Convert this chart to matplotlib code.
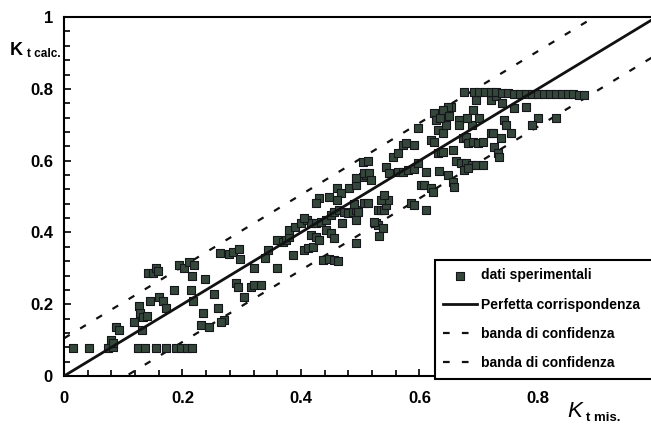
import numpy as np
import matplotlib.pyplot as plt
from matplotlib.ticker import MultipleLocator

plt.rcParams['font.family'] = ['Liberation Sans', 'DejaVu Sans']
plt.rcParams['font.weight'] = 'bold'

# ------------------------------------------------------------
# experimental points (Kt measured, Kt calculated), read off the scan
# ------------------------------------------------------------
kt_mis = [
    # low row
    0.015, 0.042, 0.074, 0.083, 0.125, 0.137, 0.156, 0.172, 0.189, 0.198, 0.207, 0.216,
    # low part
    0.080, 0.082, 0.088, 0.093, 0.127, 0.128, 0.133, 0.140, 0.118, 0.132, 0.145, 0.142,
    0.150, 0.156, 0.159, 0.160, 0.167, 0.172, 0.186, 0.194, 0.203, 0.211, 0.220, 0.216,
    0.215, 0.218, 0.238, 0.253, 0.235, 0.231, 0.245, 0.260, 0.270, 0.265, 0.263, 0.279,
    # middle
    0.290, 0.294, 0.304, 0.316, 0.321, 0.333, 0.285, 0.296, 0.297, 0.320, 0.340, 0.345,
    0.360, 0.360, 0.370, 0.375, 0.380, 0.387, 0.380, 0.390, 0.400, 0.410, 0.417, 0.426,
    0.434, 0.443, 0.405, 0.412, 0.420, 0.417, 0.426, 0.430, 0.443, 0.451, 0.456, 0.437,
    0.448, 0.456, 0.463, 0.470, 0.450, 0.456, 0.465, 0.473, 0.480, 0.488, 0.493, 0.493,
    0.460, 0.468, 0.460, 0.481, 0.493, 0.505, 0.510, 0.430, 0.426, 0.507, 0.405, 0.447,
    # upper middle
    0.493, 0.507, 0.515, 0.519, 0.505, 0.513, 0.544, 0.549, 0.556, 0.564, 0.573, 0.578,
    0.591, 0.598, 0.564, 0.573, 0.581, 0.590, 0.598, 0.611, 0.603, 0.608, 0.620, 0.623,
    0.633, 0.620, 0.625, 0.632, 0.637, 0.649, 0.657, 0.659, 0.662, 0.670, 0.679, 0.688,
    0.696, 0.708, 0.676, 0.682, 0.666, 0.667, 0.674, 0.679, 0.688, 0.682, 0.691, 0.699,
    0.708, 0.720, 0.726, 0.733, 0.735,
    0.530, 0.535, 0.540, 0.544, 0.547, 0.535, 0.540, 0.513, 0.527, 0.530, 0.539, 0.532,
    0.586, 0.591, 0.611, 0.490, 0.497, 0.493, 0.524,
    # top cluster
    0.625, 0.628, 0.632, 0.640, 0.645, 0.654, 0.649, 0.657, 0.640, 0.635, 0.640, 0.650,
    0.676, 0.680, 0.690, 0.695, 0.700, 0.720, 0.730, 0.740, 0.760, 0.780, 0.743, 0.746,
    0.800, 0.790, 0.830, 0.725, 0.738, 0.755,
    # saturated band
    0.692, 0.700, 0.710, 0.720, 0.730, 0.740, 0.750, 0.760, 0.770, 0.780, 0.790, 0.800,
    0.810, 0.820, 0.830, 0.840, 0.850, 0.860, 0.870, 0.878,
]
kt_calc = [
    0.078, 0.078, 0.078, 0.080, 0.078, 0.078, 0.078, 0.078, 0.078, 0.078, 0.078, 0.078,
    0.100, 0.092, 0.137, 0.128, 0.195, 0.175, 0.164, 0.167, 0.150, 0.128, 0.209, 0.287,
    0.287, 0.300, 0.292, 0.220, 0.210, 0.190, 0.240, 0.310, 0.300, 0.318, 0.310, 0.280,
    0.240, 0.210, 0.270, 0.228, 0.175, 0.142, 0.137, 0.190, 0.156, 0.150, 0.343, 0.340,
    0.260, 0.248, 0.220, 0.248, 0.253, 0.253, 0.345, 0.354, 0.326, 0.300, 0.330, 0.350,
    0.300, 0.380, 0.373, 0.380, 0.387, 0.337, 0.407, 0.415, 0.426, 0.435, 0.426, 0.426,
    0.430, 0.435, 0.350, 0.357, 0.360, 0.393, 0.387, 0.380, 0.407, 0.398, 0.384, 0.323,
    0.326, 0.323, 0.320, 0.426, 0.448, 0.457, 0.462, 0.457, 0.454, 0.457, 0.462, 0.370,
    0.524, 0.510, 0.490, 0.524, 0.532, 0.554, 0.560, 0.496, 0.482, 0.482, 0.440, 0.498,
    0.552, 0.565, 0.565, 0.546, 0.596, 0.600, 0.582, 0.565, 0.610, 0.620, 0.643, 0.649,
    0.643, 0.690, 0.568, 0.568, 0.574, 0.577, 0.593, 0.568, 0.532, 0.532, 0.524, 0.513,
    0.571, 0.657, 0.652, 0.621, 0.624, 0.560, 0.540, 0.527, 0.600, 0.593, 0.593, 0.588,
    0.588, 0.588, 0.574, 0.579, 0.713, 0.700, 0.663, 0.666, 0.700, 0.649, 0.652, 0.649,
    0.652, 0.677, 0.638, 0.621, 0.610,
    0.462, 0.462, 0.462, 0.476, 0.490, 0.490, 0.504, 0.482, 0.426, 0.420, 0.412, 0.390,
    0.482, 0.476, 0.462, 0.480, 0.457, 0.435, 0.430,
    0.733, 0.713, 0.685, 0.677, 0.700, 0.749, 0.749, 0.630, 0.624, 0.720, 0.740, 0.725,
    0.790, 0.720, 0.740, 0.770, 0.720, 0.770, 0.780, 0.760, 0.746, 0.749, 0.713, 0.700,
    0.720, 0.700, 0.720, 0.677, 0.663, 0.677,
    0.790, 0.790, 0.790, 0.792, 0.790, 0.788, 0.788, 0.787, 0.787, 0.787, 0.786, 0.786,
    0.786, 0.786, 0.785, 0.785, 0.785, 0.785, 0.784, 0.784,
]

# perfect agreement and confidence band (+/- offset)
line_x = np.array([0.0, 1.0])
band_offset = 0.105

fig = plt.figure(figsize=(6.51, 4.34), dpi=100)
ax = fig.add_axes([0.0983, 0.1336, 0.910, 0.827])

ax.scatter(kt_mis, kt_calc, marker="s", s=34, facecolor="#34473a",
           edgecolor="#15151c", linewidth=0.8, zorder=3, label="dati sperimentali")
ax.plot(line_x, line_x, color="#111111", lw=2.0, zorder=4,
        label="Perfetta corrispondenza")
ax.plot(line_x, line_x + band_offset, color="#111111", lw=1.6,
        linestyle=(0, (3, 5.5)), label="banda di confidenza")
ax.plot(line_x, line_x - band_offset, color="#111111", lw=1.6,
        linestyle=(0, (3, 5.5)), label="banda di confidenza")

ax.set_xlim(0, 1)
ax.set_ylim(0, 1)
ax.set_xticks([0, 0.2, 0.4, 0.6, 0.8])
ax.set_xticklabels(["0", "0.2", "0.4", "0.6", "0.8"])
ax.set_yticks([0, 0.2, 0.4, 0.6, 0.8, 1.0])
ax.set_yticklabels(["0", "0.2", "0.4", "0.6", "0.8", "1"])
ax.xaxis.set_minor_locator(MultipleLocator(0.04))
ax.yaxis.set_minor_locator(MultipleLocator(0.04))
ax.tick_params(which="both", direction="in", width=1.2, labelsize=12)
ax.tick_params(which="major", length=5)
ax.tick_params(which="minor", length=4)
ax.tick_params(axis="x", pad=11)
ax.tick_params(axis="y", pad=8)
for sp in ax.spines.values():
    sp.set_linewidth(1.5)

leg = ax.legend(loc="upper left", bbox_to_anchor=(0.626, -0.012, 0.45, 0.335),
                mode="expand", fontsize=10, frameon=True, fancybox=False,
                framealpha=1.0, handlelength=2.4, handletextpad=0.3,
                labelspacing=1.1, borderpad=0.6, borderaxespad=0)
leg.get_frame().set_edgecolor("black")
leg.get_frame().set_linewidth(1.5)
leg.set_zorder(5)

# axis labels as in the original (K with small subscript text)
fig.text(10 / 651, 1 - 55 / 434, "K", fontsize=13, fontweight="bold", va="baseline")
fig.text(27 / 651, 1 - 57 / 434, "t calc.", fontsize=8.5, fontweight="bold", va="baseline")
fig.text(567 / 651, 1 - 417 / 434, "K", fontsize=16, fontstyle="italic",
         fontweight="normal", va="baseline")
fig.text(586 / 651, 1 - 421 / 434, "t mis.", fontsize=9.5, fontweight="bold", va="baseline")

fig.savefig("out.png", dpi=100)
